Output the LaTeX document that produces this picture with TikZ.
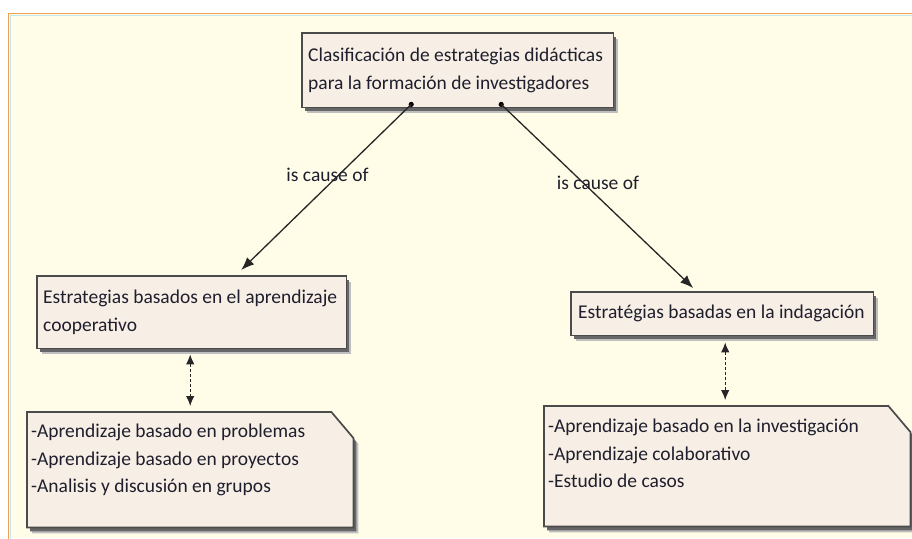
\documentclass[tikz,border=0pt]{standalone}
\usepackage{fontspec}
\setmainfont{Carlito}
\usetikzlibrary{arrows.meta,calc}
\definecolor{bgcream}{RGB}{255,253,232}
\definecolor{boxfill}{RGB}{247,239,229}
\definecolor{boxline}{RGB}{75,75,75}
\definecolor{txt}{RGB}{30,30,45}
\definecolor{frameorange}{RGB}{240,160,80}
\definecolor{frameblue}{RGB}{200,230,240}
\tikzset{
  linetext/.style={anchor=base west, inner sep=0pt, text=txt,
    font=\fontsize{19.5}{24}\selectfont},
  labeltext/.style={inner sep=0pt, text=txt, font=\fontsize{19.5}{22}\selectfont},
  frame/.style={inner sep=0pt, minimum width=#1, anchor=north west},
  boxdraw/.style={fill=boxfill, draw=boxline, line width=1.7pt},
  shadowA/.style={fill=black!60},
  shadowB/.style={fill=black!25},
  conn/.style={draw=black!85, line width=1.3pt, -{Latex[length=13pt,width=10pt]}},
  dconn/.style={draw=black!85, line width=1.1pt, dash pattern=on 3pt off 2pt,
    {Latex[length=10pt,width=8.5pt]}-{Latex[length=10pt,width=8.5pt]}},
}
\begin{document}
\begin{tikzpicture}[x=1pt,y=-1pt]
\useasboundingbox (0,0) rectangle (912,538);
\fill[white] (0,0) rectangle (912,538);
\fill[bgcream] (8,13) rectangle (912,538);
\draw[frameblue, line width=1.5pt] (10.5,540) -- (10.5,15.5) -- (914,15.5);
\draw[frameorange, line width=1.2pt] (8.5,540) -- (8.5,13.5) -- (914,13.5);

% frame nodes (invisible rectangles giving box geometry)
\node[frame=311pt, minimum height=74pt] (top) at (302,33) {};
\node[frame=309pt, minimum height=72pt] (lmid) at (37,276) {};
\node[frame=302pt, minimum height=43pt] (rmid) at (571,292) {};
\node[frame=326pt, minimum height=115pt] (lnote) at (27,412) {};
\node[frame=366pt, minimum height=120pt] (rnote) at (544,406) {};

% shadows and boxes
\foreach \n in {top,lmid,rmid}{
  \fill[shadowB] ([shift={(5,6)}]\n.north west) rectangle ([shift={(5,6)}]\n.south east);
  \fill[shadowA] ([shift={(3,4)}]\n.north west) rectangle ([shift={(3,4)}]\n.south east);
  \draw[boxdraw] (\n.north west) rectangle (\n.south east);
}
\foreach \n/\c/\d in {lnote/22/26, rnote/22/26}{
  \fill[shadowB] ([shift={(5,6)}]\n.north west) -- ([shift={(5-\c,6)}]\n.north east) -- ([shift={(5,6+\d)}]\n.north east) -- ([shift={(5,6)}]\n.south east) -- ([shift={(5,6)}]\n.south west) -- cycle;
  \fill[shadowA] ([shift={(3,4)}]\n.north west) -- ([shift={(3-\c,4)}]\n.north east) -- ([shift={(3,4+\d)}]\n.north east) -- ([shift={(3,4)}]\n.south east) -- ([shift={(3,4)}]\n.south west) -- cycle;
  \draw[boxdraw] (\n.north west) -- ([shift={(-\c,0)}]\n.north east) -- ([shift={(0,\d)}]\n.north east) -- (\n.south east) -- (\n.south west) -- cycle;
}

% texts
\node[linetext] (top1) at (308,61) {Clasificación de estrategias didácticas};
\node[linetext] (top2) at (308,89) {para la formación de investigadores};
\node[linetext] (lmid1) at (43,303) {Estrategias basados en el aprendizaje};
\node[linetext] (lmid2) at (43,331) {cooperativo};
\node[linetext] (rmid1) at (578,318) {Estratégias basadas en la indagación};
\node[linetext] (lnote1) at (31,437) {-Aprendizaje basado en problemas};
\node[linetext] (lnote2) at (31,465) {-Aprendizaje basado en proyectos};
\node[linetext] (lnote3) at (31,492) {-Analisis y discusión en grupos};
\node[linetext] (rnote1) at (548,432) {-Aprendizaje basado en la investigación};
\node[linetext] (rnote2) at (548,460) {-Aprendizaje colaborativo};
\node[linetext] (rnote3) at (548,487) {-Estudio de casos};

% connectors
\coordinate (ls) at ([xshift=-46.5pt,yshift=3pt]top.south);
\coordinate (rs) at ([xshift=43.5pt,yshift=3pt]top.south);
\fill[black] (ls) circle (2.6pt);
\fill[black] (rs) circle (2.6pt);
\draw[conn] (ls) -- ([xshift=49.5pt,yshift=6pt]lmid.north);
\draw[conn] (rs) -- ([xshift=-29pt,yshift=4pt]rmid.north);
\node[labeltext] (l1) at (327.5,175) {is cause of};
\node[labeltext] (l2) at (598,183) {is cause of};

\draw[dconn] ([xshift=-1.5pt,yshift=-6pt]lmid.south) -- ([yshift=6pt]lnote.north);
\draw[dconn] ([xshift=3pt,yshift=-7pt]rmid.south) -- ([xshift=-2pt,yshift=6pt]rnote.north);
\end{tikzpicture}
\end{document}
